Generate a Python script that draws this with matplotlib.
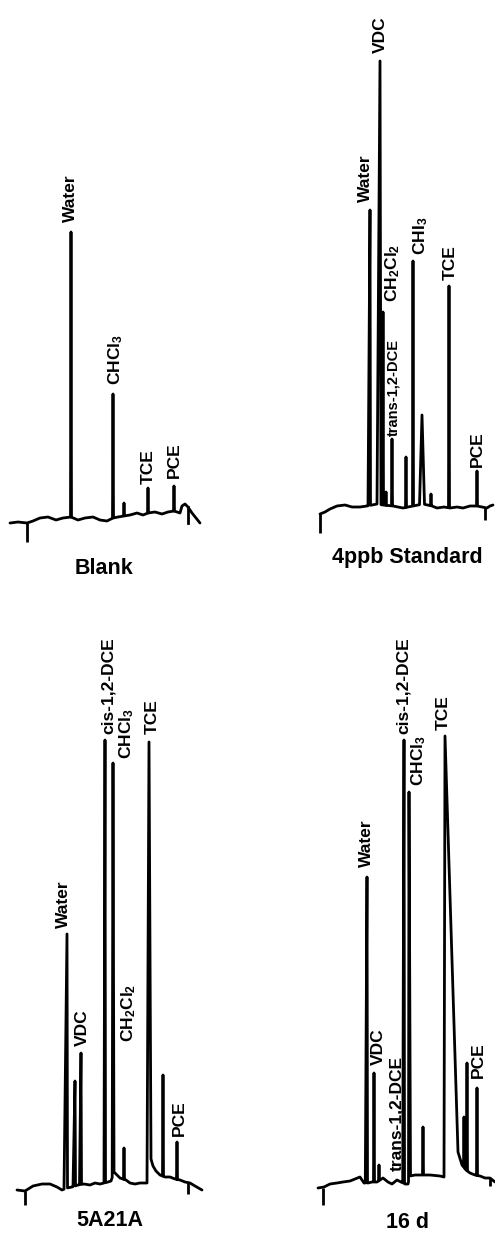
import matplotlib
matplotlib.use("Agg")
import matplotlib.pyplot as plt
import numpy as np

plt.rcParams['font.family'] = ['Liberation Sans', 'DejaVu Sans']
plt.rcParams['mathtext.default'] = 'regular'

# ---------------- data (retention position, detector signal) ----------------
# Panel 1: Blank
blank_base_t = [10, 18, 27, 33, 40, 48, 56, 63, 71, 78, 85, 93, 100, 107, 113, 118, 124,
                130, 137, 143, 148, 155, 162, 168, 174, 180, 182, 185, 188, 192, 196, 200]
blank_base_s = [-3, -2, -3, -1, 2, 3, 0, 2, 3, 0, 2, 3, 0, -1, 2, 3, 4,
                5, 7, 5, 7, 8, 6, 8, 9, 7, 14, 16, 13, 7, 2, -3]
blank_peak_t = [71, 113, 124, 148, 174]
blank_peak_s = [288, 126, 17, 32, 34]
blank_labels = ['Water', r'CHCl$_3$', 'TCE', 'PCE']

# Panel 2: 4ppb Standard
std_base_t = [73, 78, 83, 90, 98, 105, 113, 120, 130, 136, 146, 156, 166, 176, 185,
              190, 197, 203, 210, 216, 223, 230, 235, 240, 243, 246]
std_base_s = [-4, -2, 1, 4, 5, 3, 3, 4, 6, 5, 4, 2, 4, 6, 4,
              2, 3, 2, 3, 2, 4, 4, 3, 2, 4, 5]
std_peak_t = [123, 133, 136, 139, 145, 159, 166, 175, 184, 202, 230]
std_peak_s = [300, 449, 198, 18, 71, 53, 249, 95, 16, 224, 39]
std_labels = ['VDC', 'Water', r'CH$_2$Cl$_2$', 'trans-1,2-DCE', r'CHI$_3$', 'TCE', 'PCE']

# Panel 3: 5A21A
s5_base_t = [17, 25, 33, 42, 50, 57, 62, 67, 72, 78, 84, 90, 95, 100, 104, 108, 111, 114,
             117, 120, 126, 130, 135, 140, 147, 151, 153, 156, 160, 165, 170, 175, 180,
             185, 190, 195, 202]
s5_base_s = [-5, -6, -1, 1, 1, -2, -5, -3, -2, 0, 1, 0, 2, 1, 2, 3, 4, 13,
             10, 7, 5, 2, 1, 2, 2, 26, 19, 14, 10, 8, 8, 6, 5,
             3, 2, -1, -5]
s5_peak_t = [67, 75, 81, 105, 113, 124, 149, 163, 177]
s5_peak_s = [251, 104, 132, 445, 422, 37, 443, 110, 43]
s5_labels = ['Water', 'VDC', 'cis-1,2-DCE', r'CHCl$_3$', r'CH$_2$Cl$_2$', 'TCE', 'PCE']

# Panel 4: 16 d
d16_base_t = [71, 77, 83, 90, 96, 103, 108, 113, 117, 121, 125, 130, 136, 141, 145, 150,
              154, 158, 161, 163, 168, 173, 183, 193, 197, 211, 215, 219, 223, 228, 233,
              238, 243, 248]
d16_base_s = [-8, -7, -4, -3, -2, -1, 1, 3, -3, -3, -2, -2, 2, -2, -4, 0,
              -2, -4, -4, 4, 5, 5, 5, 4, 3, 28, 15, 10, 7, 5, 4,
              2, 2, -2]
d16_peak_t = [120, 127, 132, 157, 162, 176, 198, 217, 220, 230]
d16_peak_s = [303, 107, 15, 440, 388, 53, 444, 63, 117, 92]
d16_labels = ['Water', 'VDC', 'trans-1,2-DCE', 'cis-1,2-DCE', r'CHCl$_3$', 'TCE', 'PCE']

titles = ['Blank', '4ppb Standard', '5A21A', '16 d']

# ---------------- layout / shape parameters ----------------
W, H = 495, 1243
panels = [
    dict(rect=(0, 0, 247, 620), ref=520,
         bt=blank_base_t, bs=blank_base_s, pt=blank_peak_t, ps=blank_peak_s,
         pl=[0.5] * 5, pr=[0.5] * 5,
         labels=blank_labels, lpos=[(70, 298), (116, 135), (148, 36), (174, 42)],
         lsize=[12.5] * 4,
         ticks=[(27, -3, -22)], extra=[((188, 13), (188, -3))],
         title=titles[0], tpos=(104, -48)),
    dict(rect=(247, 0, 248, 620), ref=510,
         bt=std_base_t, bs=std_base_s, pt=std_peak_t, ps=std_peak_s,
         pl=[2, 3, 0.5, 0.5, 0.5, 0.5, 0.5, 2.5, 0.5, 0.5, 0.5],
         pr=[0.5, 1, 0.5, 0.5, 0.5, 0.5, 0.5, 2.5, 0.5, 0.5, 0.5],
         labels=std_labels,
         lpos=[(133, 457), (118, 308), (146, 208), (146, 74), (174, 255), (203, 230), (230, 43)],
         lsize=[12.5, 12.5, 12.5, 10.5, 12.5, 12.5, 12.5],
         ticks=[(73, -4, -23), (238, 2, -10)], extra=[],
         title=titles[1], tpos=(160, -47)),
    dict(rect=(0, 620, 247, 623), ref=1185,
         bt=s5_base_t, bs=s5_base_s, pt=s5_peak_t, ps=s5_peak_s,
         pl=[3, 2, 1.5, 1, 0.8, 0.5, 2, 0.5, 0.5],
         pr=[0.5, 0.5, 0.5, 0.5, 1, 0.5, 2, 0.5, 0.5],
         labels=s5_labels,
         lpos=[(63, 257), (82, 139), (108, 451), (127, 426), (129, 143), (152, 451), (179, 49)],
         lsize=[12.5] * 7,
         ticks=[(25, -6, -20), (188, 2, -9)], extra=[],
         title=titles[2], tpos=(110, -36)),
    dict(rect=(247, 620, 248, 623), ref=1180,
         bt=d16_base_t, bs=d16_base_s, pt=d16_peak_t, ps=d16_peak_s,
         pl=[1.7, 0.5, 0.5, 1.3, 0.5, 0.5, 1, 0.5, 0.5, 0.5],
         pr=[0.5, 0.5, 0.5, 0.5, 1.5, 0.5, 13, 0.5, 0.5, 0.5],
         labels=d16_labels,
         lpos=[(119, 313), (131, 115), (150, 9), (156, 446), (172, 394), (196, 450), (231, 102)],
         lsize=[12.5] * 7,
         ticks=[(76, -8, -25), (243, 2, -6)], extra=[],
         title=titles[3], tpos=(160, -43)),
]

LW = 2.0
fig = plt.figure(figsize=(W / 100, H / 100), dpi=100)


def build_trace(bt, bs, pt, ps, pl, pr):
    bt = np.asarray(bt, float)
    bs = np.asarray(bs, float)
    pts = list(zip(bt, bs))
    extra = []
    for t, s, l, r in zip(pt, ps, pl, pr):
        a, b = t - l, t + r
        pts = [(x, y) for (x, y) in pts if not (a < x < b)]
        extra += [(a, float(np.interp(a, bt, bs))), (t, s), (b, float(np.interp(b, bt, bs)))]
    pts = pts + extra
    pts.sort(key=lambda p: p[0])
    xs, ys = zip(*pts)
    return xs, ys


for p in panels:
    x0, y0, w, h = p['rect']
    ax = fig.add_axes([x0 / W, 1 - (y0 + h) / H, w / W, h / H])
    ref = p['ref']
    ax.set_xlim(0, w)
    ax.set_ylim(ref - (y0 + h), ref - y0)
    ax.axis('off')
    xs, ys = build_trace(p['bt'], p['bs'], p['pt'], p['ps'], p['pl'], p['pr'])
    ax.plot(xs, ys, color='black', lw=LW, solid_joinstyle='round', solid_capstyle='round')
    for (t, a, b) in p['ticks']:
        ax.plot([t, t], [a, b], color='black', lw=LW, solid_capstyle='butt')
    for (a, b) in p['extra']:
        ax.plot([a[0], b[0]], [a[1], b[1]], color='black', lw=LW)
    for lab, (t, s), fs in zip(p['labels'], p['lpos'], p['lsize']):
        ax.text(t, s, lab, rotation=90, ha='center', va='bottom', fontsize=fs,
                fontweight='bold', color='black')
    ax.text(p['tpos'][0], p['tpos'][1], p['title'], ha='center', va='center',
            fontsize=15.5, fontweight='bold', color='black')

fig.savefig('out.png', dpi=100, facecolor='white')
